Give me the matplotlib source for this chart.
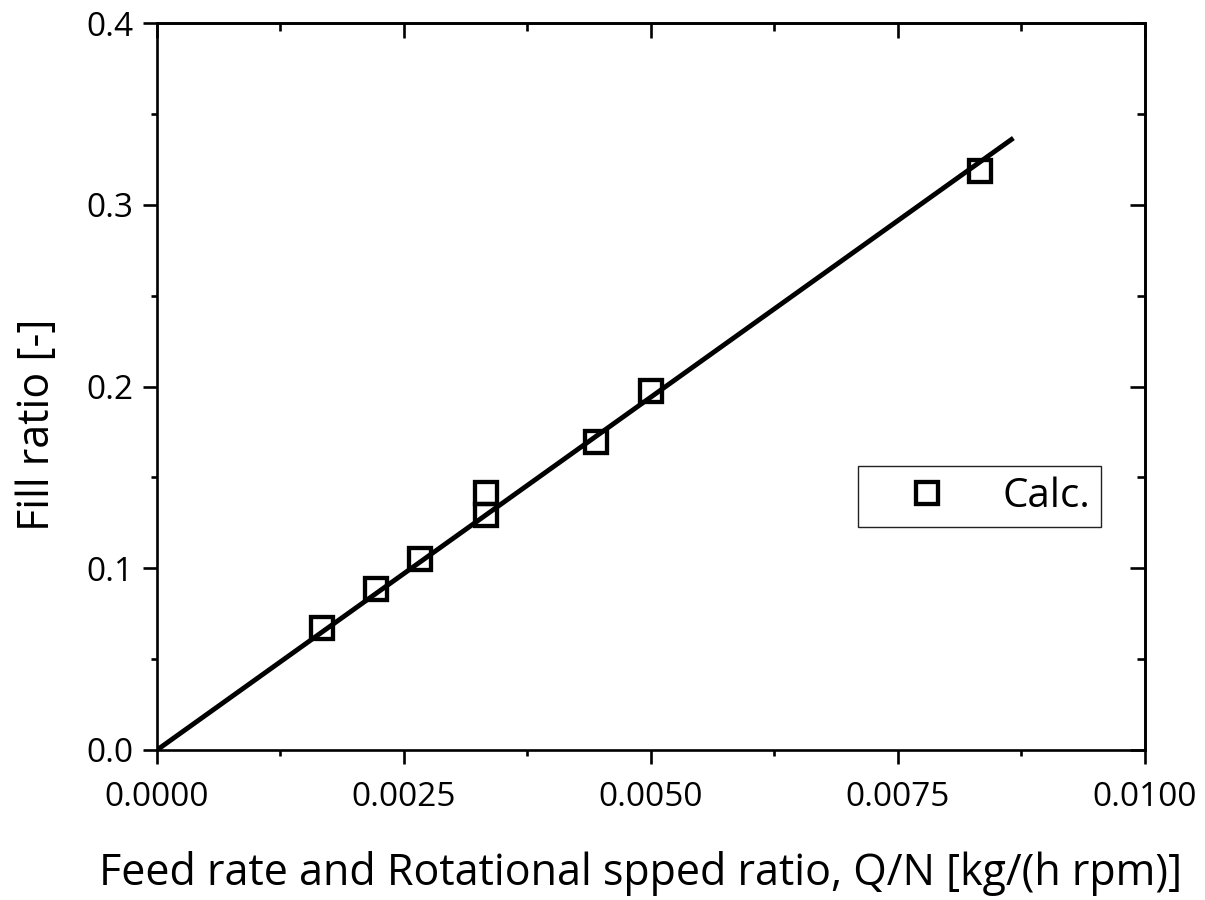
import matplotlib
matplotlib.use("Agg")
import matplotlib.pyplot as plt
from matplotlib.ticker import MultipleLocator, FormatStrFormatter

plt.rcParams['font.family'] = ['Open Sans', 'DejaVu Sans']

# Calculated fill ratio vs Q/N
qn = [0.001667, 0.002222, 0.002667, 0.003333, 0.003333, 0.004444, 0.005000, 0.008333]
fill = [0.0671, 0.0886, 0.1051, 0.1293, 0.1414, 0.1695, 0.1975, 0.3185]

# Linear fit through the origin
fit_x = [0.0, 0.00867]
fit_y = [0.0, 0.3367]

LW = 1.9
fig = plt.figure(figsize=(12.05, 9.0), dpi=100)
ax = fig.add_axes([0.1303, 0.1667, 0.8197, 0.8077])

ax.plot(fit_x, fit_y, color='black', lw=3.5, solid_capstyle='butt', zorder=2)
ax.plot(qn, fill, ls='none', marker='s', ms=15.5, mfc='none', mec='black',
        mew=3.1, label='Calc.', zorder=3)

ax.set_xlim(0, 0.01)
ax.set_ylim(0, 0.4)
ax.xaxis.set_major_locator(MultipleLocator(0.0025))
ax.xaxis.set_minor_locator(MultipleLocator(0.00125))
ax.yaxis.set_major_locator(MultipleLocator(0.1))
ax.yaxis.set_minor_locator(MultipleLocator(0.05))
ax.xaxis.set_major_formatter(FormatStrFormatter('%.4f'))
ax.yaxis.set_major_formatter(FormatStrFormatter('%.1f'))

for s in ax.spines.values():
    s.set_linewidth(LW)

ax.tick_params(which='both', direction='out', width=LW, labelsize=24,
               top=False, right=False)
ax.tick_params(which='major', length=10, pad=7)
ax.tick_params(which='minor', length=4.5)
ax.tick_params(axis='x', which='major', pad=12)

# inward ticks on the top and right spines
sec_x = ax.secondary_xaxis('top')
sec_x.xaxis.set_major_locator(MultipleLocator(0.0025))
sec_x.xaxis.set_minor_locator(MultipleLocator(0.00125))
sec_x.tick_params(which='both', direction='in', width=LW, labeltop=False)
sec_x.tick_params(which='major', length=10.5)
sec_x.tick_params(which='minor', length=5.5)
sec_x.spines['top'].set_linewidth(LW)
sec_y = ax.secondary_yaxis('right')
sec_y.yaxis.set_major_locator(MultipleLocator(0.1))
sec_y.yaxis.set_minor_locator(MultipleLocator(0.05))
sec_y.tick_params(which='both', direction='in', width=LW, labelright=False)
sec_y.tick_params(which='major', length=10.5)
sec_y.tick_params(which='minor', length=5.5)
sec_y.spines['right'].set_linewidth(LW)

ax.set_xlabel('Feed rate and Rotational spped ratio, Q/N [kg/(h rpm)]',
              fontsize=31, va='top')
ax.xaxis.set_label_coords(0.49, -0.139)
ax.set_ylabel('Fill ratio [-]', fontsize=31, va='center')
ax.yaxis.set_label_coords(-0.121, 0.448)

leg = ax.legend(loc='upper left', bbox_to_anchor=(0.7095, 0.3906),
                fontsize=29, frameon=True, fancybox=False, framealpha=1,
                handlelength=2.95, handletextpad=0.4, borderpad=0.25,
                borderaxespad=0, markerscale=1.0)
leg.get_frame().set_edgecolor('#222222')
leg.get_frame().set_linewidth(1.0)

fig.savefig('out.png', dpi=100)
